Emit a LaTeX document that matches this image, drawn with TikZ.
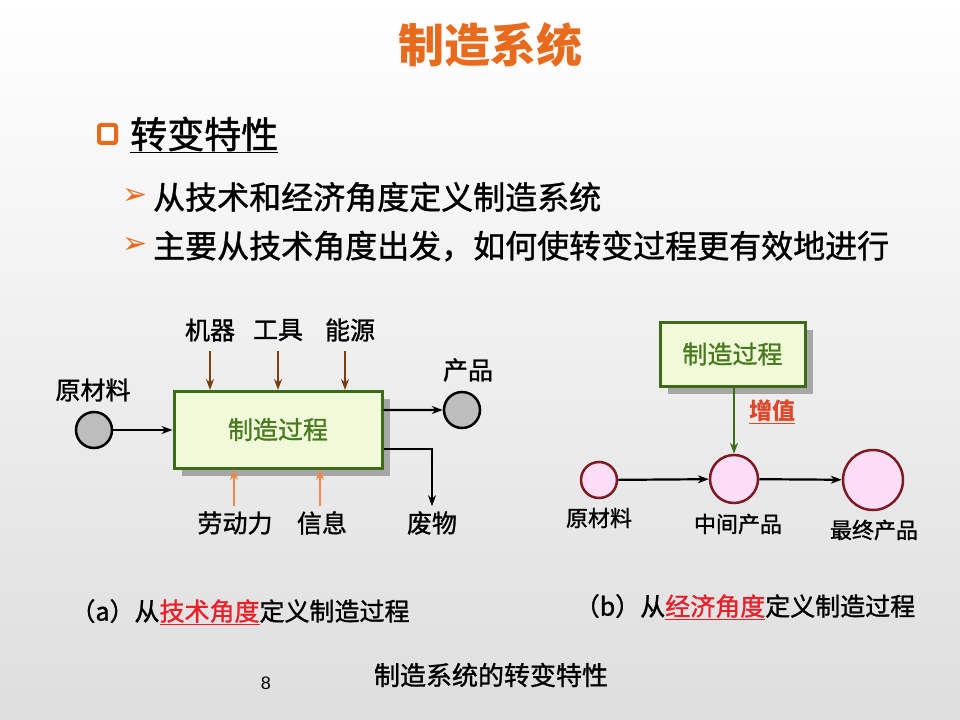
\documentclass[tikz,border=0pt]{standalone}
\usepackage{fontspec}
\newfontfamily\cjk[FakeBold=1.2]{Noto Sans CJK SC}
\newfontfamily\cjkt{Noto Sans CJK SC}
\newfontfamily\dv{DejaVu Sans}
\newfontfamily\lib{Liberation Sans}
\usetikzlibrary{arrows.meta,shadows}
\newcommand\myfs[1]{\fontsize{#1bp}{#1bp}\selectfont}
\definecolor{titleor}{HTML}{E86A1C}
\definecolor{boxfill}{HTML}{F0FAD8}
\definecolor{boxline}{HTML}{3E6B1A}
\definecolor{boxtext}{HTML}{4A7A1F}
\definecolor{brownar}{HTML}{7B3F12}
\definecolor{orangear}{HTML}{F0884A}
\definecolor{graycirc}{HTML}{BDBDBD}
\definecolor{pinkfill}{HTML}{FBDDF5}
\definecolor{pinkline}{HTML}{7E1A24}
\definecolor{capred}{HTML}{E8202A}
\definecolor{zzred}{HTML}{E0482A}
\begin{document}
\begin{tikzpicture}[x=1bp,y=-1bp,
  every node/.style={inner sep=2bp},
  title/.style={font=\cjkt\bfseries\myfs{46}, text=titleor},
  head/.style={font=\cjk\myfs{37}, anchor=west},
  body/.style={font=\cjk\myfs{32}, anchor=west},
  bul/.style={font=\dv\myfs{30}, text=titleor},
  lab/.style={font=\cjk\myfs{25}},
  slab/.style={font=\cjk\myfs{22}},
  procbox/.style={draw=boxline, line width=3bp, fill=boxfill,
     font=\cjk\myfs{25}, text=boxtext,
     drop shadow={shadow xshift=8bp, shadow yshift=-8bp, fill=black!35, opacity=1}},
  gcirc/.style={circle, draw=black, line width=2.5bp, fill=graycirc, minimum size=36bp, inner sep=0pt},
  pcirc/.style={circle, draw=pinkline, line width=2.5bp, fill=pinkfill, inner sep=0pt},
  arr/.style={-{Stealth[length=11bp,width=8bp]}, line width=2.2bp, black},
  brownarr/.style={-{Stealth[length=11bp,width=8bp]}, line width=2.5bp, brownar},
  orarr/.style={-{Stealth[length=11bp,width=8bp]}, line width=2.5bp, orangear},
  grarr/.style={-{Stealth[length=11bp,width=8bp]}, line width=2.5bp, boxline},
  captxt/.style={font=\cjk\myfs{25}},
]
\shade[top color=white, bottom color=black!13] (0,0) rectangle (960,720);
\useasboundingbox (0,0) rectangle (960,720);

% title
\node[title] (title) at (490,45) {制造系统};

% heading with square bullet
\draw[titleor, line width=4bp, rounded corners=2bp, fill=white] (99,125) rectangle (116,143);
\node[head] (h1) at (128,135) {\underline{转变特性}};

\node[bul] (bu1) at (135,197) {➢};
\node[body] (t1) at (151,197) {从技术和经济角度定义制造系统};
\node[bul] (bu2) at (135,246) {➢};
\node[body] (t2) at (151,246) {主要从技术角度出发，如何使转变过程更有效地进行};

% diagram (a)
\node[procbox, minimum width=208bp, minimum height=77bp] (pa) at (278,429.5) {制造过程};
\node[gcirc] (raw) at (94,430) {};
\node[lab] at (93,390) {原材料};
\draw[arr] (raw) -- (raw -| pa.west);

\node[lab] (m1) at (210,330) {机器};
\node[lab] (m2) at (278,330) {工具};
\node[lab] (m3) at (350,330) {能源};
\draw[brownarr] (210,351) -- (210,390);
\draw[brownarr] (278,351) -- (278,390);
\draw[brownarr] (345,351) -- (345,390);

\node[gcirc] (prod) at (462,410) {};
\node[lab] (prodl) at (468,370) {产品};
\draw[arr] ([yshift=19.5bp]pa.east) -- (prod.west);

\node[lab] (waste) at (432,523) {废物};
\draw[arr] ([yshift=-19.5bp]pa.east) -| ([yshift=3bp]waste.north);

\node[lab] (labor) at (235,523) {劳动力};
\node[lab] (info) at (322,523) {信息};
\draw[orarr] (234,506) -- (234,469);
\draw[orarr] (320,506) -- (320,469);

% diagram (b)
\node[procbox, minimum width=145bp, minimum height=64bp] (pb) at (732.5,354) {制造过程};
\node[pcirc, minimum size=36bp] (r2) at (599,480) {};
\node[pcirc, minimum size=48bp] (mid) at (734,479) {};
\node[pcirc, minimum size=60bp] (fin) at (873,480) {};
\draw[grarr] (pb.south -| mid) -- (mid.north);
\node[font=\cjkt\bfseries\myfs{23}, text=zzred] (zz) at (772,412) {\underline{增值}};
\draw[arr] (r2) -- (mid);
\draw[arr] (mid) -- (fin);
\node[slab] at (599,518) {原材料};
\node[slab] at (738,524) {中间产品};
\node[slab] at (874,530) {最终产品};

% captions
\node[captxt] (capa) at (240,612) {（a）从{\color{capred}\underline{技术角度}}定义制造过程};
\node[captxt] (capb) at (745,607) {（b）从{\color{capred}\underline{经济角度}}定义制造过程};

\node[font=\lib\myfs{18}] (pg) at (266,683) {8};
\node[font=\cjk\myfs{26}] (foot) at (491,675) {制造系统的转变特性};
\end{tikzpicture}
\end{document}
